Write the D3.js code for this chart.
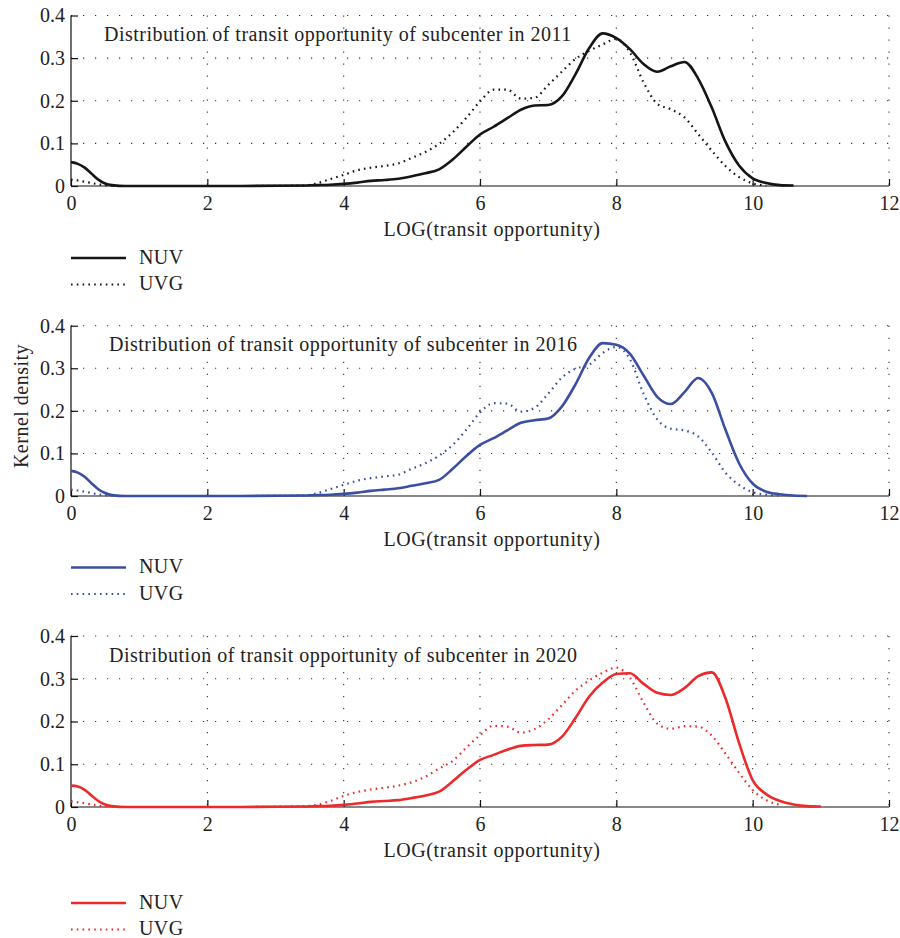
<!DOCTYPE html>
<html>
<head>
<meta charset="utf-8">
<script src="https://cdn.jsdelivr.net/npm/d3@7"></script>
<style>
  body { margin: 0; background: #fff; }
  svg text { font-family: "Liberation Serif", "DejaVu Serif", serif; fill: #222; }
</style>
</head>
<body>
<svg id="chart" width="900" height="938"></svg>
<script>
// x positions (LOG(transit opportunity)) shared by every curve
const xs = [0, 0.1, 0.2, 0.3, 0.4, 0.5, 0.6, 0.8, 1.5, 2.5, 3.4, 3.6, 3.8, 4.0, 4.2, 4.4, 4.6, 4.8,
  5.0, 5.2, 5.4, 5.6, 5.8, 6.0, 6.2, 6.4, 6.6, 6.8, 7.0, 7.2, 7.4, 7.6, 7.8, 8.0, 8.2, 8.4, 8.6,
  8.8, 9.0, 9.2, 9.4, 9.6, 9.8, 10.0, 10.2, 10.4, 10.6, 10.8, 11.0];

// kernel density values, null = curve has ended
const nuv2011 = [0.056, 0.052, 0.043, 0.029, 0.015, 0.006, 0.002, 0, 0, 0, 0.001, 0.002, 0.003, 0.005, 0.008, 0.012, 0.014, 0.017,
  0.023, 0.030, 0.039, 0.062, 0.092, 0.121, 0.139, 0.159, 0.179, 0.189, 0.190, 0.210, 0.262, 0.323, 0.358, 0.347, 0.321, 0.286, 0.268,
  0.281, 0.291, 0.252, 0.184, 0.104, 0.048, 0.018, 0.007, 0.002, 0.001, null, null];
const uvg2011 = [0.015, 0.013, 0.010, 0.007, 0.004, 0.002, 0.001, 0, 0, 0, 0.001, 0.006, 0.016, 0.026, 0.037, 0.043, 0.047, 0.053,
  0.066, 0.080, 0.099, 0.126, 0.160, 0.198, 0.226, 0.226, 0.205, 0.207, 0.237, 0.268, 0.298, 0.317, 0.332, 0.345, 0.313, 0.243, 0.193,
  0.180, 0.161, 0.122, 0.083, 0.047, 0.021, 0.006, 0.001, null, null, null, null];

const nuv2016 = [0.059, 0.055, 0.045, 0.030, 0.016, 0.007, 0.002, 0, 0, 0, 0.001, 0.002, 0.003, 0.005, 0.008, 0.012, 0.015, 0.018,
  0.024, 0.030, 0.038, 0.064, 0.094, 0.120, 0.136, 0.154, 0.172, 0.178, 0.182, 0.210, 0.262, 0.324, 0.359, 0.355, 0.334, 0.283, 0.233,
  0.216, 0.244, 0.277, 0.242, 0.156, 0.077, 0.029, 0.010, 0.004, 0.001, 0.0, null];
const uvg2016 = [0.015, 0.013, 0.010, 0.007, 0.004, 0.002, 0.001, 0, 0, 0, 0.001, 0.006, 0.016, 0.026, 0.036, 0.042, 0.046, 0.050,
  0.064, 0.077, 0.095, 0.120, 0.156, 0.196, 0.218, 0.217, 0.198, 0.207, 0.240, 0.278, 0.299, 0.308, 0.336, 0.350, 0.321, 0.240, 0.180,
  0.158, 0.154, 0.140, 0.102, 0.055, 0.026, 0.009, 0.003, 0.001, null, null, null];

const nuv2020 = [0.050, 0.048, 0.040, 0.027, 0.014, 0.006, 0.002, 0, 0, 0, 0.001, 0.002, 0.003, 0.005, 0.008, 0.012, 0.014, 0.016,
  0.021, 0.027, 0.036, 0.060, 0.087, 0.110, 0.122, 0.134, 0.143, 0.145, 0.146, 0.164, 0.208, 0.258, 0.291, 0.311, 0.313, 0.288, 0.267,
  0.262, 0.278, 0.306, 0.315, 0.255, 0.150, 0.063, 0.030, 0.014, 0.006, 0.002, 0.001];
const uvg2020 = [0.013, 0.011, 0.009, 0.006, 0.003, 0.002, 0.001, 0, 0, 0, 0.002, 0.005, 0.014, 0.026, 0.035, 0.041, 0.045, 0.050,
  0.058, 0.071, 0.090, 0.108, 0.139, 0.168, 0.190, 0.188, 0.174, 0.182, 0.205, 0.238, 0.272, 0.296, 0.314, 0.326, 0.302, 0.244, 0.195,
  0.183, 0.189, 0.188, 0.167, 0.125, 0.080, 0.040, 0.016, 0.005, null, null, null];

const years = ['2011', '2016', '2020'];
const colors = ['#151515', '#3a4fa2', '#ec2a2c'];
const seriesNames = ['NUV', 'UVG'];
const xTicks = [0, 2, 4, 6, 8, 10, 12];
const yTicks = [0, 0.1, 0.2, 0.3, 0.4];

const panels = [
  { nuv: nuv2011, uvg: uvg2011, top: 15.5, bottom: 186, legendY: 258 },
  { nuv: nuv2016, uvg: uvg2016, top: 325.7, bottom: 496, legendY: 567.5 },
  { nuv: nuv2020, uvg: uvg2020, top: 636, bottom: 807, legendY: 903 }
];

const svg = d3.select('#chart');
const left = 71, right = 889;
const x = d3.scaleLinear().domain([0, 12]).range([left, right]);

panels.forEach((p, i) => {
  const y = d3.scaleLinear().domain([0, 0.4]).range([p.bottom, p.top]);
  const g = svg.append('g');
  const color = colors[i];

  // dotted grid
  g.selectAll('.vgrid').data(xTicks.slice(1)).enter().append('line')
    .attr('x1', d => x(d)).attr('x2', d => x(d))
    .attr('y1', p.top).attr('y2', p.bottom)
    .attr('stroke', '#333').attr('stroke-width', 1.1).attr('stroke-dasharray', '1.2,10.8');
  g.selectAll('.hgrid').data(yTicks.slice(1)).enter().append('line')
    .attr('x1', left).attr('x2', right)
    .attr('y1', d => y(d)).attr('y2', d => y(d))
    .attr('stroke', '#333').attr('stroke-width', 1.1).attr('stroke-dasharray', '1.2,10.8');

  // axes with inward ticks
  const xAxis = g.append('g').attr('transform', `translate(0,${p.bottom})`)
    .call(d3.axisBottom(x).tickValues(xTicks).tickSize(-7).tickPadding(10).tickFormat(d3.format('d')));
  const yAxis = g.append('g').attr('transform', `translate(${left},0)`)
    .call(d3.axisLeft(y).tickValues(yTicks).tickSize(-7).tickPadding(6)
      .tickFormat(d => d === 0 ? '0' : d3.format('.1f')(d)));
  [xAxis, yAxis].forEach(a => {
    a.select('.domain').attr('stroke', '#111').attr('stroke-width', 1.2);
    a.selectAll('.tick line').attr('stroke', '#111').attr('stroke-width', 1.2);
    a.selectAll('.tick text').attr('font-size', 20).attr('fill', '#222')
      .style('font-family', '"Liberation Serif", serif');
  });
  yAxis.select('.domain').attr('d', `M0,${p.top}V${p.bottom}`);
  xAxis.select('.domain').attr('d', `M${left},0H${right}`);

  // curves
  const line = data => d3.line()
    .defined((d, k) => data[k] !== null)
    .x((d, k) => x(xs[k]))
    .y((d, k) => y(data[k]))
    .curve(d3.curveMonotoneX)(xs);

  g.append('path').attr('d', line(p.uvg))
    .attr('fill', 'none').attr('stroke', color).attr('stroke-width', 2.2)
    .attr('stroke-dasharray', '1.6,4.2');
  g.append('path').attr('d', line(p.nuv))
    .attr('fill', 'none').attr('stroke', color).attr('stroke-width', 2.6)
    .attr('stroke-linejoin', 'round');

  // title inside the plot
  g.append('text').attr('x', i === 0 ? 104 : 109).attr('y', p.top + 25.5)
    .attr('font-size', 20).attr('letter-spacing', 0.5)
    .text(`Distribution of transit opportunity of subcenter in ${years[i]}`);

  // x-axis label
  g.append('text').attr('x', 492).attr('y', p.bottom + 50).attr('text-anchor', 'middle')
    .attr('font-size', 20).attr('letter-spacing', 0.6).text('LOG(transit opportunity)');

  // legend
  seriesNames.forEach((name, k) => {
    const ly = p.legendY + k * 26.5;
    g.append('line').attr('x1', 71).attr('x2', 126).attr('y1', ly).attr('y2', ly)
      .attr('stroke', color).attr('stroke-width', k === 0 ? 2.6 : 2.2)
      .attr('stroke-dasharray', k === 0 ? null : '1.6,4.2');
    g.append('text').attr('x', 139).attr('y', ly + 5.5).attr('font-size', 20)
      .attr('letter-spacing', 0.4).text(name);
  });
});

// shared y label
svg.append('text').attr('transform', 'translate(28,406) rotate(-90)')
  .attr('text-anchor', 'middle').attr('font-size', 20).attr('letter-spacing', 0.5).text('Kernel density');
</script>
</body>
</html>
